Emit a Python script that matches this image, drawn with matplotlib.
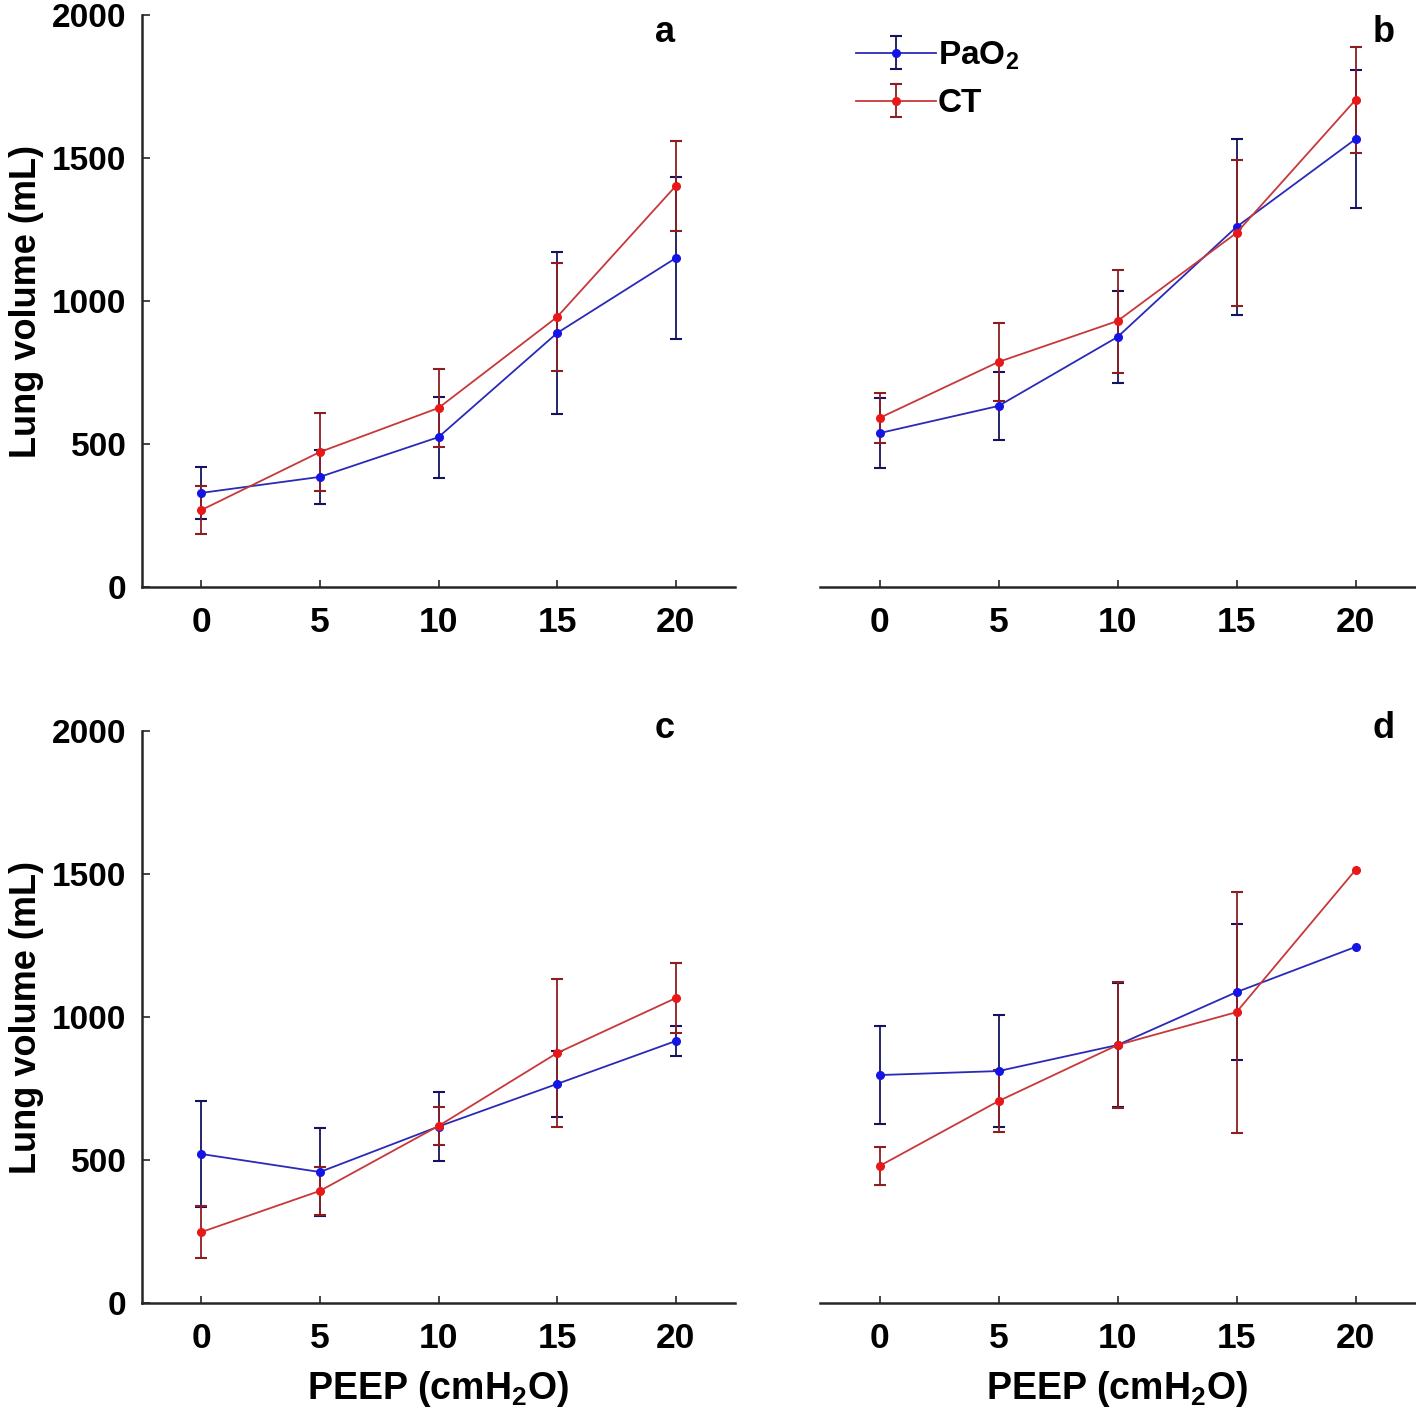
import numpy as np
import matplotlib
matplotlib.use("Agg")
import matplotlib.pyplot as plt

# ---------------------------------------------------
# Data
# ---------------------------------------------------

peep = [0, 5, 10, 15, 20]
panel_letters = ["a", "b", "c", "d"]

pao2_mean_a = [329, 385, 524, 888, 1150]
pao2_sd_a = [91, 95, 142, 284, 282]
ct_mean_a = [269, 472, 626, 944, 1402]
ct_sd_a = [84, 138, 136, 190, 157]

pao2_mean_b = [538, 633, 874, 1259, 1566]
pao2_sd_b = [122, 118, 161, 308, 240]
ct_mean_b = [591, 787, 930, 1238, 1703]
ct_sd_b = [87, 136, 180, 254, 184]

pao2_mean_c = [521, 458, 617, 766, 916]
pao2_sd_c = [185, 154, 120, 116, 53]
ct_mean_c = [248, 392, 619, 874, 1066]
ct_sd_c = [91, 84, 65, 258, 123]

pao2_mean_d = [797, 811, 902, 1087, 1245]
pao2_sd_d = [170, 195, 217, 238, np.nan]
ct_mean_d = [479, 706, 902, 1017, 1514]
ct_sd_d = [68, 108, 219, 421, np.nan]

yticks = [0, 500, 1000, 1500, 2000]

# ---------------------------------------------------
# Style
# ---------------------------------------------------

plt.rcParams["font.family"] = ["Liberation Sans", "DejaVu Sans"]
plt.rcParams["font.weight"] = "bold"
plt.rcParams["mathtext.fontset"] = "custom"
plt.rcParams["mathtext.rm"] = "Liberation Sans:bold"
plt.rcParams["mathtext.bf"] = "Liberation Sans:bold"
plt.rcParams["mathtext.default"] = "bf"

blue_line = "#2a2ab8"
blue_mark = "#1414e6"
blue_err = "#14145e"
red_line = "#c8383a"
red_mark = "#e81818"
red_err = "#8c1e22"
spine_col = "#262626"

fig = plt.figure(figsize=(14.16, 14.25), dpi=100)

W, H = 1416, 1425
boxes = [
    (142, 15, 735, 587),
    (820, 15, 1415, 587),
    (142, 731, 735, 1303),
    (820, 731, 1415, 1303),
]
letter_pos = [(0.882, 0.969), (0.948, 0.969), (0.882, 1.005), (0.948, 1.005)]

data = [
    (pao2_mean_a, pao2_sd_a, ct_mean_a, ct_sd_a),
    (pao2_mean_b, pao2_sd_b, ct_mean_b, ct_sd_b),
    (pao2_mean_c, pao2_sd_c, ct_mean_c, ct_sd_c),
    (pao2_mean_d, pao2_sd_d, ct_mean_d, ct_sd_d),
]

axes = []
for i, (x0, y0, x1, y1) in enumerate(boxes):
    ax = fig.add_axes([x0 / W, 1 - y1 / H, (x1 - x0) / W, (y1 - y0) / H])
    axes.append(ax)

    pm, ps, cm, cs = data[i]

    h1 = ax.errorbar(
        peep, pm, yerr=ps,
        color=blue_line, ecolor=blue_err,
        marker="o", markersize=5.5,
        markerfacecolor=blue_mark, markeredgecolor=blue_mark,
        linewidth=1.3, elinewidth=1.3, capsize=4.5, capthick=1.5,
        label="PaO$_2$", zorder=3
    )
    h2 = ax.errorbar(
        peep, cm, yerr=cs,
        color=red_line, ecolor=red_err,
        marker="o", markersize=5.5,
        markerfacecolor=red_mark, markeredgecolor=red_mark,
        linewidth=1.3, elinewidth=1.3, capsize=4.5, capthick=1.5,
        label="CT", zorder=3
    )

    ax.set_xlim(-2.5, 22.5)
    ax.set_ylim(0, 2000)
    ax.set_xticks(peep)
    ax.set_xticklabels([str(p) for p in peep])

    ax.spines["top"].set_visible(False)
    ax.spines["right"].set_visible(False)
    ax.spines["bottom"].set_color(spine_col)
    ax.spines["bottom"].set_linewidth(1.8)
    ax.spines["left"].set_color(spine_col)
    ax.spines["left"].set_linewidth(1.8)

    ax.tick_params(axis="x", direction="in", length=5, width=1.2,
                   color=spine_col, labelsize=25.5, pad=14)

    if i in (0, 2):
        ax.set_yticks(yticks)
        ax.set_yticklabels([str(t) for t in yticks])
        ax.tick_params(axis="y", direction="in", length=6, width=1.2,
                       color=spine_col, labelsize=24, pad=11)
        ax.set_ylabel("Lung volume (mL)", fontsize=26, fontweight="bold",
                      labelpad=6)
    else:
        ax.spines["left"].set_visible(False)
        ax.set_yticks([])

    if i in (2, 3):
        ax.set_xlabel("PEEP (cmH$_2$O)", fontsize=27, fontweight="bold",
                      labelpad=10)

    ax.text(letter_pos[i][0], letter_pos[i][1], panel_letters[i],
            transform=ax.transAxes, fontsize=26, fontweight="bold",
            ha="center", va="center")

    if i == 1:
        ax.legend(
            [h1, h2], ["PaO$_2$", "CT"],
            loc="upper left", bbox_to_anchor=(0.01, 1.01),
            frameon=False, fontsize=24, handlelength=2.4,
            handletextpad=0.05, labelspacing=0.5
        )

fig.savefig("out.png", dpi=100)
